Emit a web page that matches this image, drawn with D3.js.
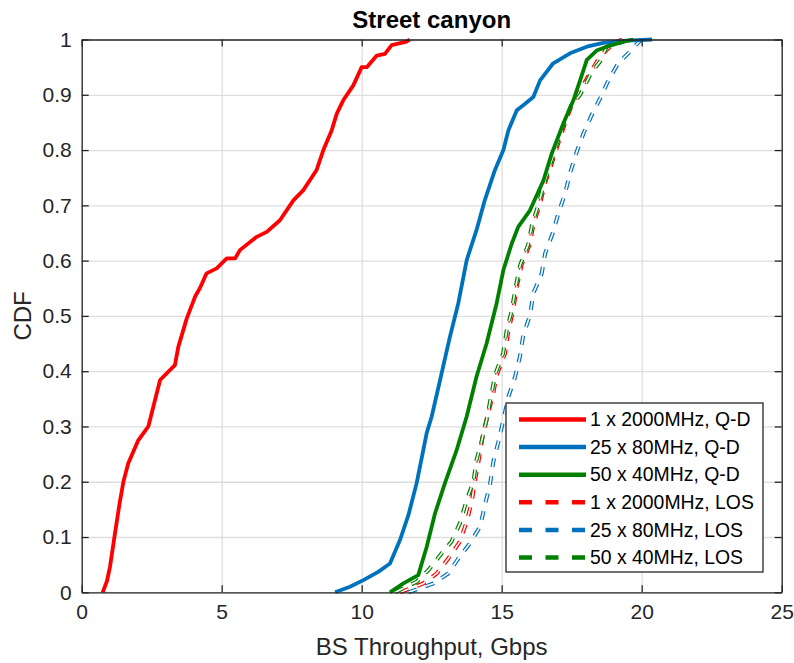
<!DOCTYPE html>
<html>
<head>
<meta charset="utf-8">
<script src="https://cdn.jsdelivr.net/npm/d3@7"></script>
<style>
  body { margin: 0; background: #fff; }
  text { font-family: "Liberation Sans", Arial, Helvetica, sans-serif; }
</style>
</head>
<body>
<div id="chart"></div>
<script>
// Tick values
const xTicks = [0, 5, 10, 15, 20, 25];
const yTicks = [0, 0.1, 0.2, 0.3, 0.4, 0.5, 0.6, 0.7, 0.8, 0.9, 1];

// CDF curves, [throughput Gbps, CDF]
const qd2000 = [[0.75, 0], [0.9, 0.02], [1.01, 0.046], [1.19, 0.107], [1.35, 0.16], [1.49, 0.2], [1.66, 0.233],
  [2.02, 0.275], [2.38, 0.3], [2.56, 0.336], [2.8, 0.384], [3.33, 0.411], [3.45, 0.444], [3.75, 0.495],
  [4.05, 0.535], [4.22, 0.55], [4.46, 0.577], [4.82, 0.586], [5.18, 0.604], [5.48, 0.604], [5.65, 0.619],
  [6.25, 0.643], [6.61, 0.652], [7.08, 0.673], [7.56, 0.709], [7.91, 0.727], [8.39, 0.764], [8.63, 0.8],
  [8.93, 0.836], [9.11, 0.866], [9.34, 0.89], [9.7, 0.917], [10.0, 0.95], [10.18, 0.95], [10.54, 0.971],
  [10.83, 0.974], [11.07, 0.99], [11.6, 0.996], [11.72, 1]];
const qd80 = [[9.05, 0], [9.58, 0.01], [10.06, 0.022], [10.59, 0.037], [11.01, 0.052], [11.37, 0.095],
  [11.67, 0.14], [11.96, 0.197], [12.2, 0.257], [12.32, 0.288], [12.5, 0.318], [12.8, 0.384], [13.15, 0.462],
  [13.45, 0.523], [13.75, 0.601], [14.1, 0.655], [14.4, 0.71], [14.76, 0.764], [15.06, 0.8], [15.24, 0.836],
  [15.54, 0.872], [15.77, 0.881], [16.13, 0.896], [16.37, 0.926], [16.84, 0.957], [17.44, 0.975],
  [18.04, 0.987], [18.63, 0.994], [19.5, 0.998], [20.37, 1]];
const qd40 = [[11.01, 0], [11.49, 0.016], [12.02, 0.031], [12.32, 0.082], [12.62, 0.143], [12.97, 0.197],
  [13.39, 0.257], [13.75, 0.318], [14.1, 0.39], [14.46, 0.45], [14.82, 0.523], [15.06, 0.583], [15.36, 0.631],
  [15.59, 0.661], [16.01, 0.691], [16.49, 0.745], [16.79, 0.794], [17.2, 0.848], [17.56, 0.89], [17.8, 0.926],
  [18.04, 0.963], [18.39, 0.98], [18.87, 0.989], [19.34, 0.996], [19.7, 1]];
const los2000 = [[11.37, 0], [12.2, 0.016], [12.68, 0.034], [13.09, 0.061], [13.51, 0.092], [13.75, 0.128],
  [13.93, 0.164], [14.05, 0.203], [14.2, 0.245], [14.34, 0.288], [14.52, 0.324], [14.7, 0.36], [14.82, 0.393],
  [15.12, 0.432], [15.24, 0.474], [15.41, 0.51], [15.54, 0.553], [15.71, 0.592], [15.99, 0.628], [16.13, 0.664],
  [16.37, 0.703], [16.55, 0.74], [16.79, 0.776], [17.02, 0.812], [17.26, 0.848], [17.5, 0.881], [17.8, 0.908],
  [18.15, 0.939], [18.51, 0.969], [18.99, 0.993], [19.3, 1]];
const los80 = [[11.67, 0], [12.56, 0.016], [13.09, 0.034], [13.45, 0.061], [13.87, 0.089], [14.23, 0.119],
  [14.4, 0.158], [14.58, 0.194], [14.7, 0.236], [14.88, 0.272], [15.06, 0.312], [15.24, 0.354], [15.48, 0.39],
  [15.65, 0.426], [15.77, 0.465], [16.01, 0.501], [16.13, 0.541], [16.43, 0.577], [16.55, 0.613], [16.82, 0.649],
  [17.02, 0.685], [17.26, 0.721], [17.44, 0.758], [17.68, 0.797], [17.92, 0.83], [18.21, 0.863], [18.51, 0.893],
  [18.81, 0.926], [19.16, 0.957], [19.58, 0.978], [19.85, 0.993], [20.0, 1]];
const los40 = [[11.2, 0], [11.96, 0.019], [12.38, 0.04], [12.8, 0.067], [13.21, 0.092], [13.51, 0.125],
  [13.75, 0.167], [13.99, 0.2], [14.1, 0.239], [14.29, 0.275], [14.46, 0.312], [14.64, 0.36], [14.76, 0.393],
  [15.05, 0.432], [15.18, 0.474], [15.36, 0.51], [15.5, 0.553], [15.66, 0.592], [15.94, 0.628], [16.08, 0.664],
  [16.32, 0.703], [16.52, 0.74], [16.75, 0.776], [16.98, 0.812], [17.22, 0.848], [17.48, 0.881], [17.8, 0.9],
  [18.2, 0.94], [18.51, 0.96], [18.75, 0.987], [19.6, 1]];

const seriesNames = ["1 x 2000MHz, Q-D", "25 x 80MHz, Q-D", "50 x 40MHz, Q-D",
  "1 x 2000MHz, LOS", "25 x 80MHz, LOS", "50 x 40MHz, LOS"];
const seriesData = [qd2000, qd80, qd40, los2000, los80, los40];
const seriesColors = ["#ff0000", "#0072bd", "#008000", "#ff0000", "#0072bd", "#008000"];
const seriesDashed = [false, false, false, true, true, true];

const W = 794, H = 663;
const margin = { top: 39.5, right: 12.3, bottom: 70.7, left: 81.7 };
const width = W - margin.left - margin.right;
const height = H - margin.top - margin.bottom;

const svg = d3.select("#chart").append("svg")
  .attr("width", W).attr("height", H);
const g = svg.append("g")
  .attr("transform", `translate(${margin.left},${margin.top})`);

const x = d3.scaleLinear().domain([0, 25]).range([0, width]);
const y = d3.scaleLinear().domain([0, 1]).range([height, 0]);

// Grid
g.append("g")
  .attr("transform", `translate(0,${height})`)
  .call(d3.axisBottom(x).tickValues(xTicks).tickSize(-height).tickFormat(""))
  .call(a => a.select(".domain").remove())
  .call(a => a.selectAll("line").attr("stroke", "#dedede").attr("stroke-width", 1.3));
g.append("g")
  .call(d3.axisLeft(y).tickValues(yTicks).tickSize(-width).tickFormat(""))
  .call(a => a.select(".domain").remove())
  .call(a => a.selectAll("line").attr("stroke", "#dedede").attr("stroke-width", 1.3));

// Curves: dashed LOS ones drawn as hollow dashes, solid Q-D ones on top
const line = d3.line().x(d => x(d[0])).y(d => y(d[1]));
const curves = g.append("g");
seriesData.forEach((data, i) => {
  if (seriesDashed[i]) {
    curves.append("path").datum(data)
      .attr("d", line).attr("fill", "none")
      .attr("stroke", seriesColors[i]).attr("stroke-width", 4)
      .attr("stroke-dasharray", "9,9");
    curves.append("path").datum(data)
      .attr("d", line).attr("fill", "none")
      .attr("stroke", "#fff").attr("stroke-width", 1.6)
      .attr("stroke-dasharray", "9,9");
  }
});
seriesData.forEach((data, i) => {
  if (!seriesDashed[i]) {
    curves.append("path").datum(data)
      .attr("d", line).attr("fill", "none")
      .attr("stroke", seriesColors[i]).attr("stroke-width", 3.8)
      .attr("stroke-linejoin", "round");
  }
});

// Axes (box with inward ticks)
const axisColor = "#262626";
function styleAxis(a) {
  a.select(".domain").attr("stroke", axisColor).attr("stroke-width", 1.3);
  a.selectAll(".tick line").attr("stroke", axisColor).attr("stroke-width", 1.3);
  a.selectAll("text").attr("fill", axisColor).attr("font-size", 21)
    .attr("font-family", "Liberation Sans, Arial, sans-serif");
}
g.append("g")
  .attr("transform", `translate(0,${height})`)
  .call(d3.axisBottom(x).tickValues(xTicks).tickSize(-7).tickSizeOuter(0).tickPadding(12).tickFormat(d3.format("d")))
  .call(styleAxis);
g.append("g")
  .call(d3.axisLeft(y).tickValues(yTicks).tickSize(-7).tickSizeOuter(0).tickPadding(10).tickFormat(d => d === 0 || d === 1 ? d : d.toFixed(1)))
  .call(styleAxis);
g.append("g")
  .call(d3.axisTop(x).tickValues(xTicks).tickSize(-7).tickSizeOuter(0).tickFormat(""))
  .call(styleAxis);
g.append("g")
  .attr("transform", `translate(${width},0)`)
  .call(d3.axisRight(y).tickValues(yTicks).tickSize(-7).tickSizeOuter(0).tickFormat(""))
  .call(styleAxis);

// Labels
svg.append("text")
  .attr("x", margin.left + width / 2).attr("y", 28)
  .attr("text-anchor", "middle").attr("font-size", 24).attr("font-weight", "bold")
  .attr("fill", "#000").text("Street canyon");
svg.append("text")
  .attr("x", margin.left + width / 2).attr("y", 655)
  .attr("text-anchor", "middle").attr("font-size", 24)
  .attr("fill", axisColor).text("BS Throughput, Gbps");
svg.append("text")
  .attr("transform", `translate(31,${margin.top + height / 2}) rotate(-90)`)
  .attr("text-anchor", "middle").attr("font-size", 24)
  .attr("fill", axisColor).text("CDF");

// Legend
const lg = svg.append("g").attr("transform", "translate(506,403)");
lg.append("rect")
  .attr("width", 257).attr("height", 169)
  .attr("fill", "#fff").attr("stroke", axisColor).attr("stroke-width", 1.3);
seriesNames.forEach((name, i) => {
  const ry = 16.5 + i * 27.6;
  lg.append("line")
    .attr("x1", 13).attr("x2", 80).attr("y1", ry).attr("y2", ry)
    .attr("stroke", seriesColors[i]).attr("stroke-width", 4.5)
    .attr("stroke-dasharray", seriesDashed[i] ? "13,13.5" : null);
  lg.append("text")
    .attr("x", 84).attr("y", ry).attr("dy", "0.35em")
    .attr("font-size", 19.4).attr("fill", "#000").text(name);
});
</script>
</body>
</html>
